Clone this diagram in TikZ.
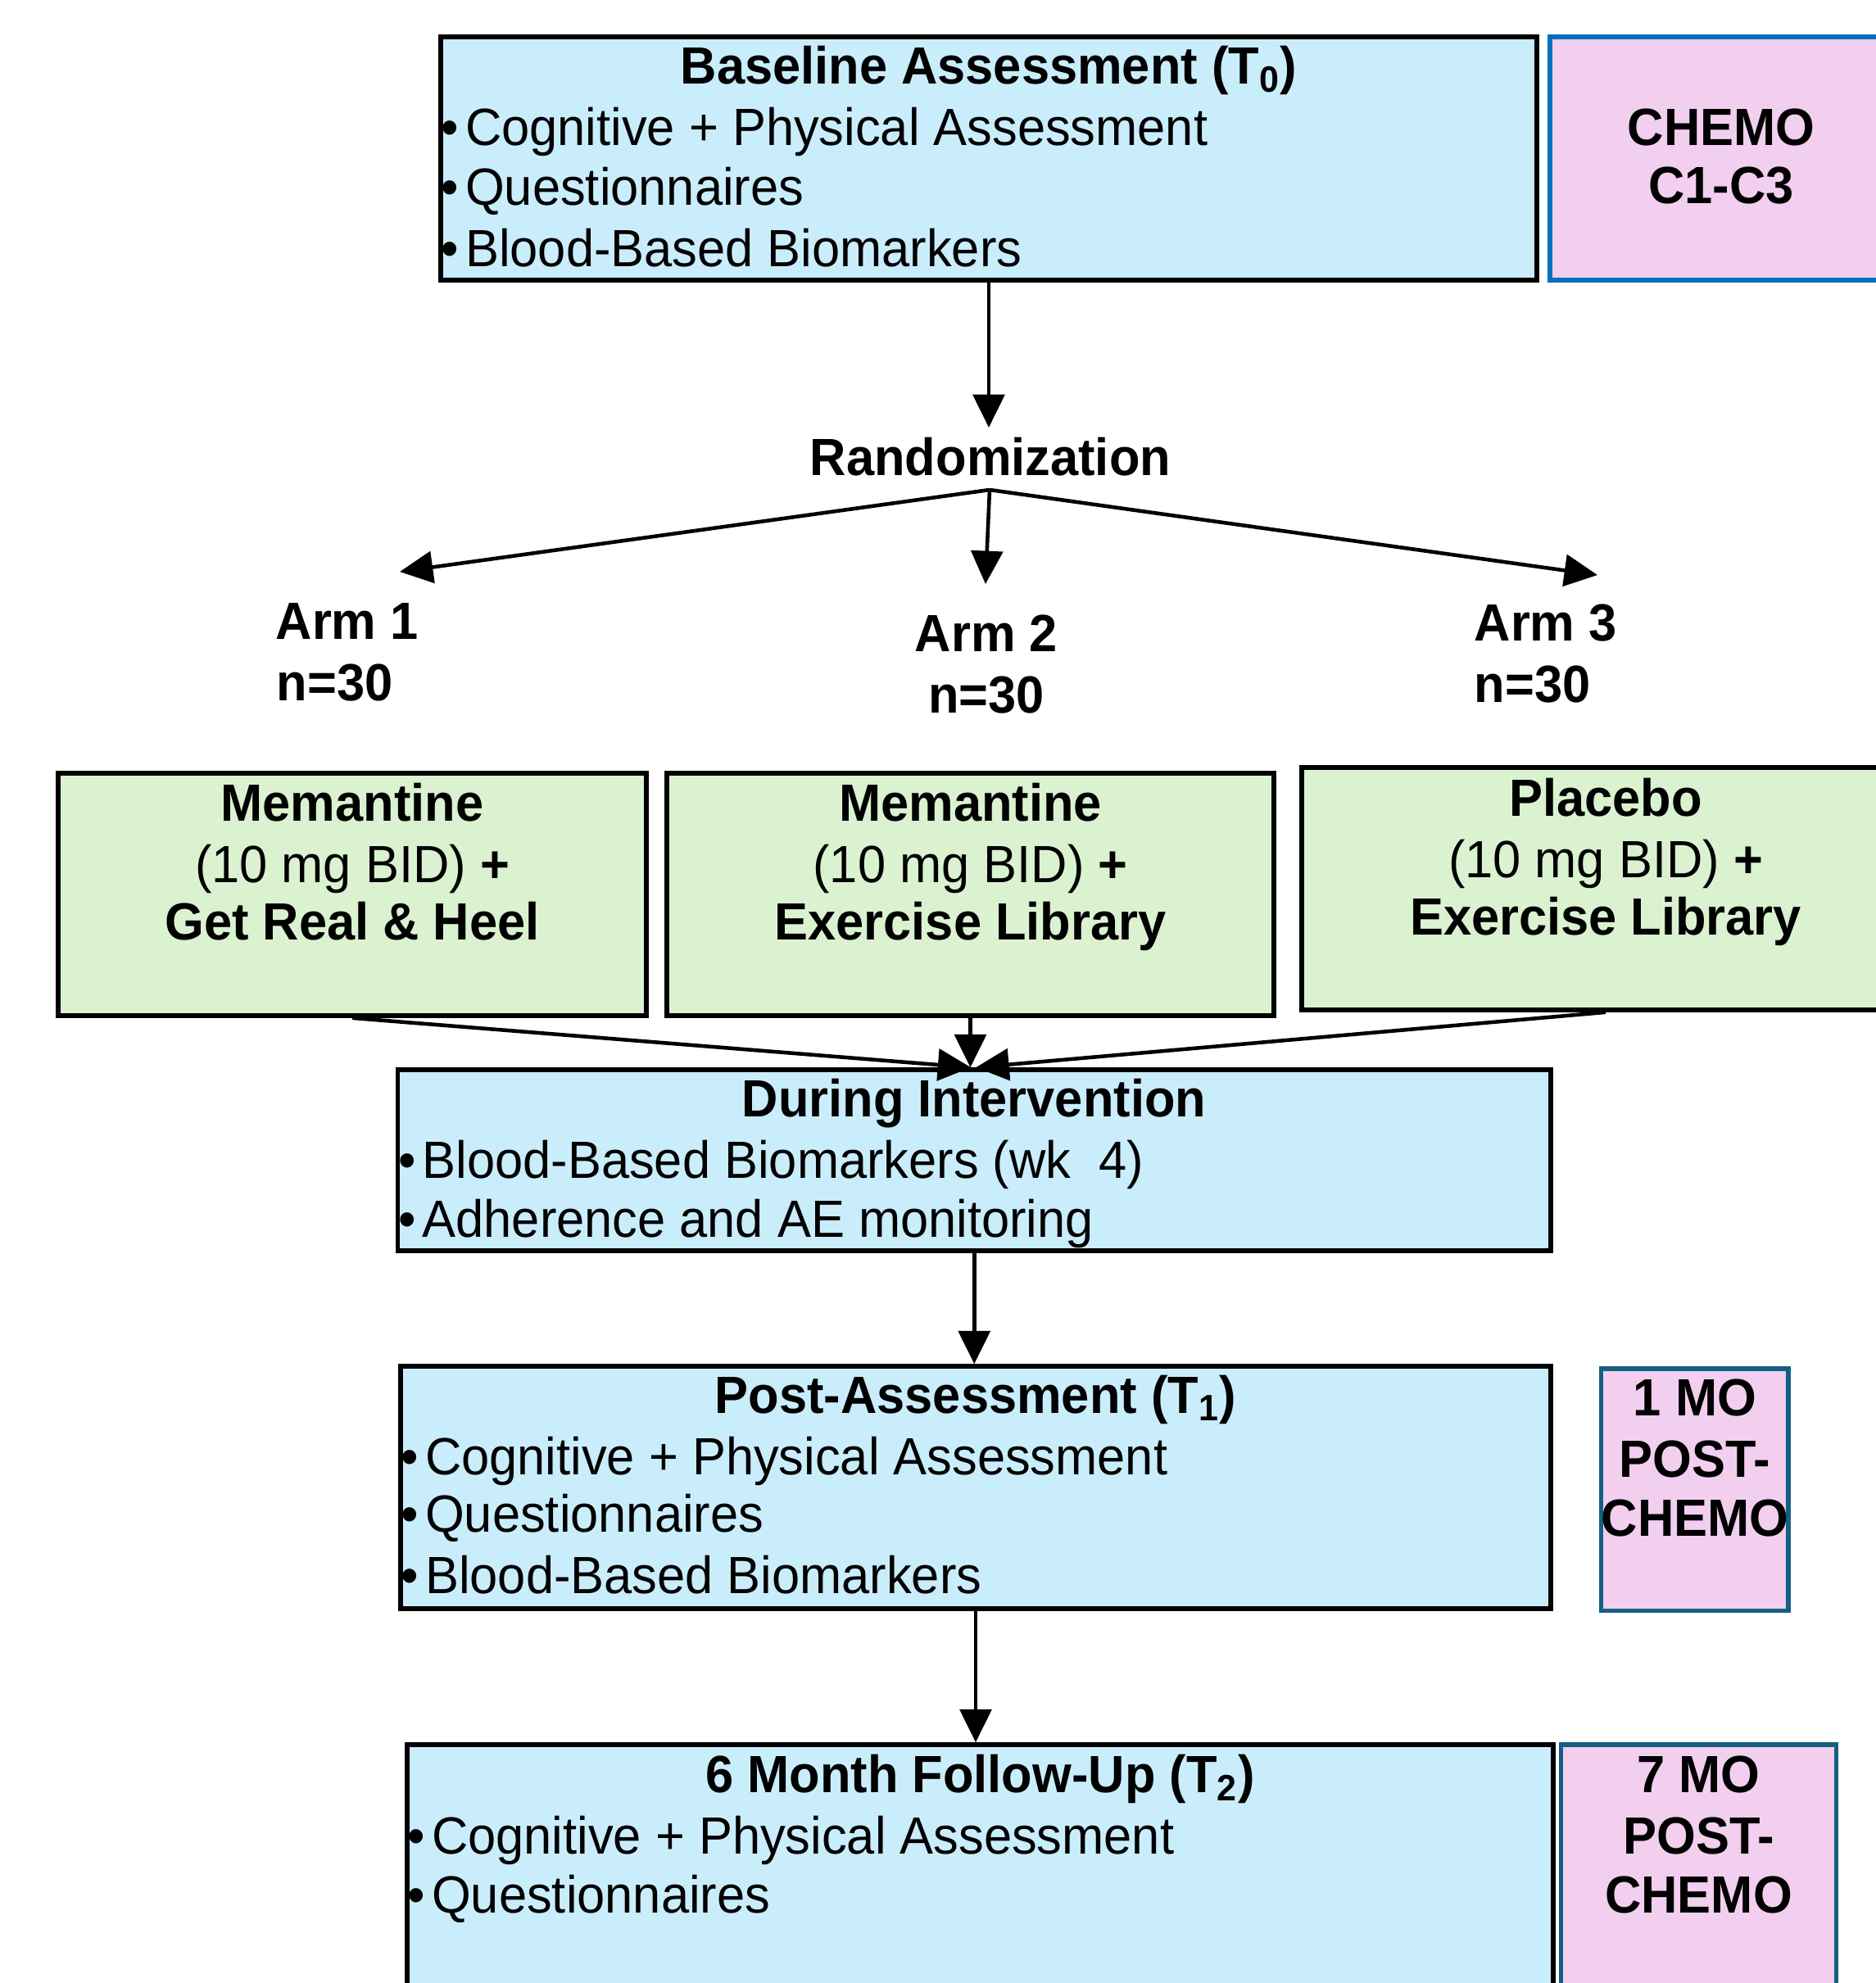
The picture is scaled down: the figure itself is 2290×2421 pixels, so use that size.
\documentclass[tikz,border=0pt]{standalone}
\usepackage{fontspec}
\setmainfont[FakeStretch=0.96]{Liberation Sans}
\usetikzlibrary{arrows.meta}
\definecolor{boxblue}{HTML}{CAEDFB}
\definecolor{boxgreen}{HTML}{DAF2D0}
\definecolor{boxpink}{HTML}{F2CEEF}
\definecolor{chemoblue}{HTML}{0070C0}
\definecolor{moteal}{HTML}{156082}
\newcommand{\bul}[1]{\makebox[2.95mm][l]{\textbullet}#1}
\tikzset{
  box/.style={draw, line width=1.6pt, inner sep=0pt},
  bluebox/.style={box, fill=boxblue},
  greenbox/.style={box, fill=boxgreen},
  pinkbox/.style={box, fill=boxpink, draw=moteal},
  txt/.style={inner sep=0pt, font=\fontsize{18.2}{21}\selectfont},
  hd/.style={inner sep=0pt, font=\fontsize{18.2}{21}\selectfont\bfseries},
  arr/.style={-{Triangle[length=11.5pt,width=11pt]}, line width=1.3pt}
}

\begin{document}
\begin{tikzpicture}[x=0.1mm,y=-0.1mm]
\useasboundingbox (0,0) rectangle (2290,2421);
\clip (0,0) rectangle (2290,2421);

% boxes
\node[bluebox, minimum width=133.8mm, minimum height=29.7mm] (base) at (1207,193.5) {};
\node[pinkbox, draw=chemoblue, line width=1.8pt, minimum width=41.8mm, minimum height=29.7mm] (chemo) at (2101,193.5) {};
\node[greenbox, minimum width=71.8mm, minimum height=29.6mm] (arm1box) at (430,1092) {};
\node[greenbox, minimum width=74.1mm, minimum height=29.6mm] (arm2box) at (1184.5,1092) {};
\node[greenbox, minimum width=74.2mm, minimum height=29.6mm] (arm3box) at (1960,1085) {};
\node[bluebox, minimum width=140.75mm, minimum height=22.1mm] (during) at (1189.25,1416.5) {};
\node[bluebox, minimum width=140.4mm, minimum height=29.6mm] (post) at (1191,1816) {};
\node[pinkbox, minimum width=22.85mm, minimum height=29.55mm] (mo1) at (2068.75,1818.75) {};
\node[bluebox, minimum width=139.9mm, minimum height=30mm] (follow) at (1196.5,2280) {};
\node[pinkbox, minimum width=33.6mm, minimum height=30mm] (mo7) at (2073.5,2280) {};

% baseline
\node[hd, anchor=base] (base-t) at (1207,102) {Baseline Assessment (T\textsubscript{0})};
\node[txt, anchor=base west] (base-1) at (538,177) {\bul{Cognitive + Physical Assessment}};
\node[txt, anchor=base west] (base-2) at (538,250) {\bul{Questionnaires}};
\node[txt, anchor=base west] (base-3) at (538,325) {\bul{Blood-Based Biomarkers}};
\node[hd, anchor=base] (chemo-1) at (2101,177) {CHEMO};
\node[hd, anchor=base] (chemo-2) at (2101,248) {C1-C3};

% randomization
\node[hd, anchor=base, inner ysep=1.1mm] (rand) at (1209,580) {Randomization};
\coordinate (split) at (1208,598);
\coordinate (tip1) at (488,698);
\coordinate (tip2) at (1203,713);
\coordinate (tip3) at (1950,702);
\node[hd, anchor=base west] (arm1-a) at (336,780) {Arm 1};
\node[hd, anchor=base west] (arm1-b) at (337,855) {n=30};
\node[hd, anchor=base] (arm2-a) at (1204,795) {Arm 2};
\node[hd, anchor=base] (arm2-b) at (1204,870) {n=30};
\node[hd, anchor=base west] (arm3-a) at (1799,782) {Arm 3};
\node[hd, anchor=base west] (arm3-b) at (1799,857) {n=30};

% arms
\node[hd, anchor=base] (arm1-1) at (430,1002) {Memantine};
\node[txt, anchor=base] (arm1-2) at (430,1077) {(10 mg BID) \textbf{+}};
\node[hd, anchor=base] (arm1-3) at (430,1147) {Get Real \& Heel};
\node[hd, anchor=base] (arm2-1) at (1184.5,1002) {Memantine};
\node[txt, anchor=base] (arm2-2) at (1184.5,1077) {(10 mg BID) \textbf{+}};
\node[hd, anchor=base] (arm2-3) at (1184.5,1147) {Exercise Library};
\node[hd, anchor=base] (arm3-1) at (1960,996) {Placebo};
\node[txt, anchor=base] (arm3-2) at (1960,1071) {(10 mg BID) \textbf{+}};
\node[hd, anchor=base] (arm3-3) at (1960,1141) {Exercise Library};

% during
\node[hd, anchor=base] (during-t) at (1189,1363) {During Intervention};
\node[txt, anchor=base west] (during-1) at (485.5,1438) {\bul{Blood-Based Biomarkers (wk\ \ 4)}};
\node[txt, anchor=base west] (during-2) at (485.5,1510) {\bul{Adherence and AE monitoring}};

% post
\node[hd, anchor=base] (post-t) at (1191,1725) {Post-Assessment (T\textsubscript{1})};
\node[txt, anchor=base west] (post-1) at (489,1800) {\bul{Cognitive + Physical Assessment}};
\node[txt, anchor=base west] (post-2) at (489,1870) {\bul{Questionnaires}};
\node[txt, anchor=base west] (post-3) at (489,1945) {\bul{Blood-Based Biomarkers}};
\node[hd, anchor=base] (mo1-1) at (2069,1728) {1 MO};
\node[hd, anchor=base] (mo1-2) at (2069,1803) {POST-};
\node[hd, anchor=base] (mo1-3) at (2069,1875) {CHEMO};

% follow-up
\node[hd, anchor=base] (follow-t) at (1196.5,2188) {6 Month Follow-Up (T\textsubscript{2})};
\node[txt, anchor=base west] (follow-1) at (497,2263) {\bul{Cognitive + Physical Assessment}};
\node[txt, anchor=base west] (follow-2) at (497,2335) {\bul{Questionnaires}};
\node[hd, anchor=base] (mo7-1) at (2073.5,2188) {7 MO};
\node[hd, anchor=base] (mo7-2) at (2073.5,2263) {POST-};
\node[hd, anchor=base] (mo7-3) at (2073.5,2335) {CHEMO};

% arrows
\draw[arr] (base.south) -- (base.south |- rand.north);
\draw[arr] (split) -- (tip1);
\draw[arr] (split) -- (tip2);
\draw[arr] (split) -- (tip3);
\draw[arr] (arm1box.south) -- ([xshift=-0.4mm]during.north);
\draw[arr] (arm2box.south) -- (arm2box.south |- during.north);
\draw[arr] (arm3box.south) -- ([xshift=0.2mm]during.north);
\draw[arr] (during.south) -- (during.south |- post.north);
\draw[arr] (post.south) -- (post.south |- follow.north);
\end{tikzpicture}
\end{document}
